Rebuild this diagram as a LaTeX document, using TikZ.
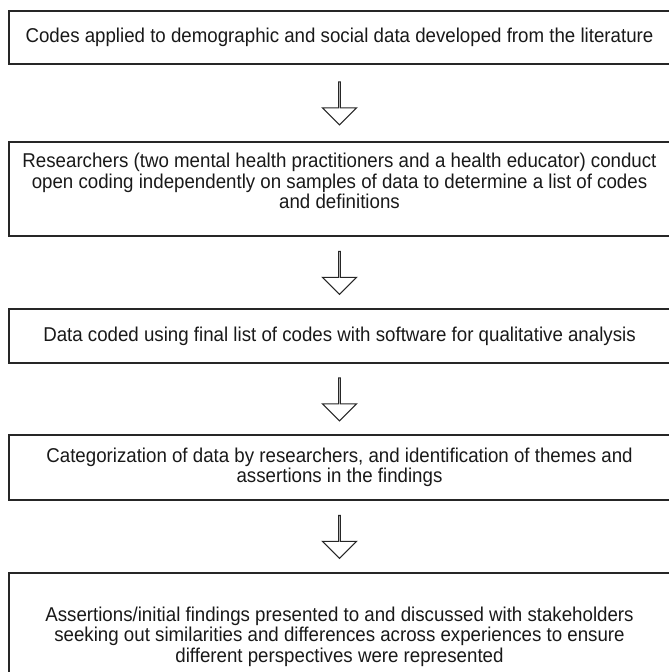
\documentclass[tikz,border=0pt]{standalone}
\usepackage{fontspec}
\setmainfont[FakeStretch=0.935]{Liberation Sans}
\usetikzlibrary{shapes.arrows,calc}

\tikzset{
  stage/.style={draw=black!85, line width=1.3pt, minimum width=661pt, inner sep=0pt,
    align=center, font=\fontsize{20}{20.5}\selectfont, text=black!90},
  flow/.style={single arrow, draw=black!85, line width=1.1pt, rotate=-90,
    minimum height=43pt, minimum width=34pt, single arrow head extend=10pt,
    single arrow head indent=0pt, inner sep=0pt}
}

\begin{document}
\begin{tikzpicture}[x=1pt, y=1pt]
\useasboundingbox (0,0) rectangle (669,-672);

\node[stage, minimum height=53pt] (s1) at (339.5,-37.5)
  {Codes applied to demographic and social data developed from the literature};
\node[stage, minimum height=94pt] (s2) at (339.5,-189)
  {Researchers (two mental health practitioners and a health educator) conduct\\
   open coding independently on samples of data to determine a list of codes\\
   and definitions\\[-4.5pt]\mbox{}};
\node[stage, minimum height=54pt] (s3) at (339.5,-336)
  {Data coded using final list of codes with software for qualitative analysis};
\node[stage, minimum height=65pt] (s4) at (339.5,-467.5)
  {Categorization of data by researchers, and identification of themes and\\
   assertions in the findings};
\node[stage, minimum height=127pt] (s5) at (339.5,-636.5)
  {Assertions/initial findings presented to and discussed with stakeholders\\
   seeking out similarities and differences across experiences to ensure\\
   different perspectives were represented};

% arrows between the stages
\foreach \i/\j in {1/2,2/3,3/4,4/5}{
\node[flow] (a\i) at ($(s\i.south)!.5!(s\j.north)$) {};
}
\end{tikzpicture}
\end{document}
